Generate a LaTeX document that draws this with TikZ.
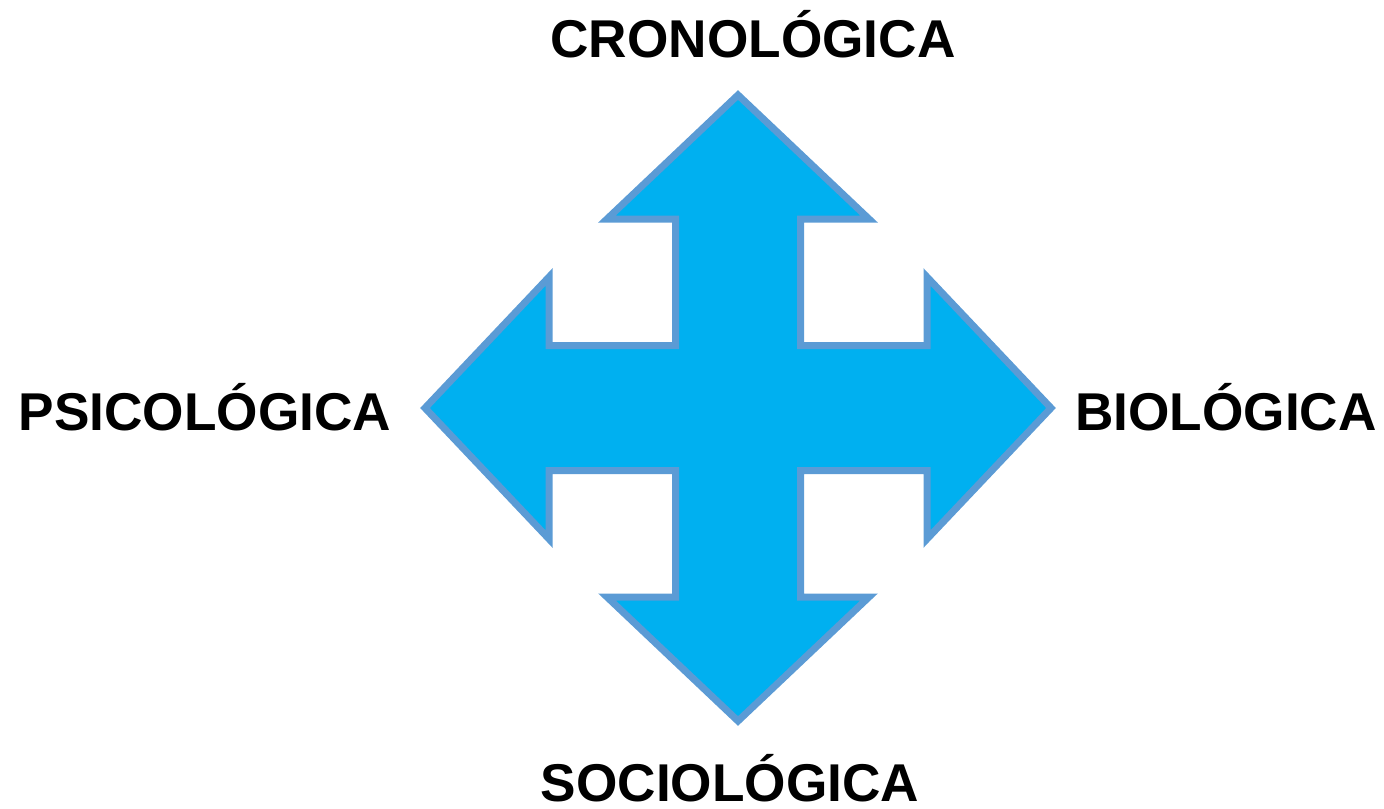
\documentclass[tikz,border=0pt]{standalone}
\usepackage{fontspec}
\setmainfont{Liberation Sans}
\definecolor{arrowfill}{HTML}{00B0F0}
\definecolor{arrowline}{HTML}{5B9BD5}
\begin{document}
\begin{tikzpicture}[
  x=0.5pt, y=-0.5pt,
  crossarrow/.style={fill=arrowfill, draw=arrowline, line width=3.5pt, line join=miter},
  axislabel/.style={anchor=base, inner sep=0pt, text depth=0pt, font=\fontsize{26.6}{32}\selectfont\bfseries}
]
\useasboundingbox (0,0) rectangle (1384,808);

% --- four-way arrow ---
\draw[crossarrow]
  (738,95) -- (869,219) -- (800.5,219) -- (800.5,345.5) -- (927,345.5)
  -- (927,277) -- (1051,408) -- (927,539) -- (927,470.5) -- (800.5,470.5)
  -- (800.5,597) -- (869,597) -- (738,721) -- (607,597) -- (675.5,597)
  -- (675.5,470.5) -- (549,470.5) -- (549,539) -- (425,408) -- (549,277)
  -- (549,345.5) -- (675.5,345.5) -- (675.5,219) -- (607,219) -- cycle;

% --- labels ---
\node[axislabel] (crono) at (753,58) {CRONOLÓGICA};
\node[axislabel] (psico) at (205,430) {PSICOLÓGICA};
\node[axislabel] (bio) at (1226,430) {BIOLÓGICA};
\node[axislabel] (socio) at (730,801) {SOCIOLÓGICA};

\end{tikzpicture}
\end{document}
